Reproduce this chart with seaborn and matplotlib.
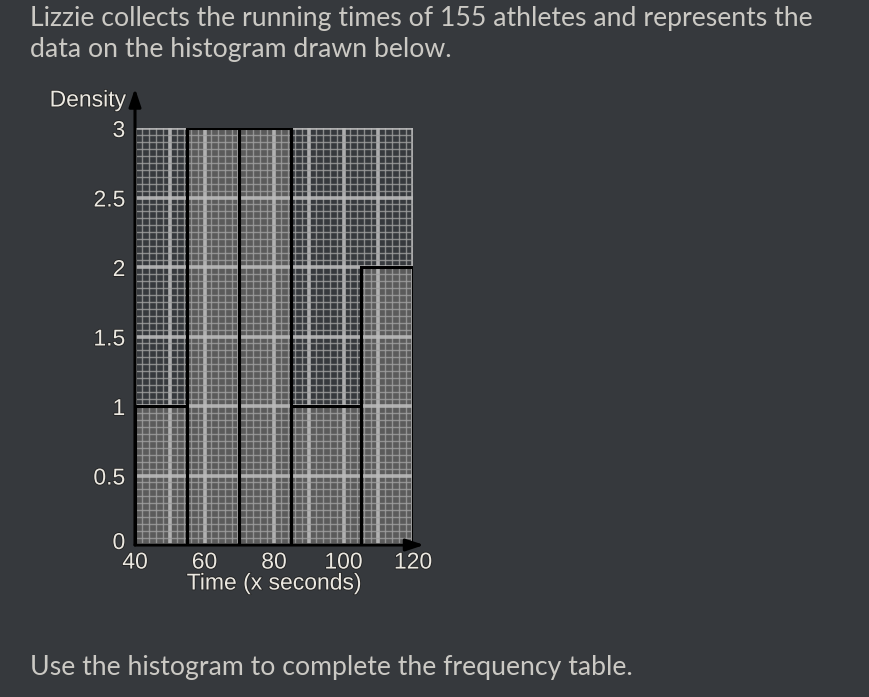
import numpy as np
import pandas as pd
import matplotlib
matplotlib.use("Agg")
import matplotlib.pyplot as plt
import matplotlib.transforms as mtransforms
import matplotlib.patheffects as pe
import seaborn as sns

# ---- data ----
bin_edges = [40, 55, 70, 85, 105, 120]
densities = [1, 3, 3, 1, 2]
x_ticks = [40, 60, 80, 100, 120]
y_ticks = [0, 0.5, 1, 1.5, 2, 2.5, 3]
y_tick_labels = ["0", "0.5", "1", "1.5", "2", "2.5", "3"]
title_lines = ["Lizzie collects the running times of 155 athletes and represents the",
               "data on the histogram drawn below."]
footer = "Use the histogram to complete the frequency table."
x_label = "Time (x seconds)"
y_label = "Density"

widths = np.diff(bin_edges)
mids = [(a + b) / 2 for a, b in zip(bin_edges[:-1], bin_edges[1:])]
df = pd.DataFrame({"mid": mids, "freq": [d * w for d, w in zip(densities, widths)]})

BG = "#36393d"
TXT = "#ebe8e1"
shadow = [pe.withStroke(linewidth=1.2, foreground="#222222")]

sns.set_theme(style="dark")
plt.rcParams["font.family"] = ["Liberation Sans", "DejaVu Sans"]

fig = plt.figure(figsize=(8.7, 6.97), dpi=100, facecolor=BG)
ax = fig.add_axes([135 / 870, 1 - 545 / 697, (413 - 135) / 870, (545 - 128) / 697])
ax.set_facecolor(BG)

# filled bars (below grid)
sns.histplot(data=df, x="mid", weights="freq", bins=bin_edges, stat="frequency",
             color="#5b5b5b", alpha=1, linewidth=0, ax=ax, zorder=1)
# outlines on top
sns.histplot(data=df, x="mid", weights="freq", bins=bin_edges, stat="frequency",
             fill=False, color="black", linewidth=2.2, ax=ax, zorder=4)

ax.set_xlim(40, 120)
ax.set_ylim(0, 3)

# grid
for xv in np.arange(40, 121, 2):
    major = (xv % 10 == 0)
    ax.axvline(xv, color="#bbbbbb" if major else "#a0a0a0",
               lw=2.6 if major else 1.0, alpha=0.9 if major else 0.8, zorder=2)
for yv in np.arange(0, 3.0001, 0.05):
    yr = round(yv, 2)
    major = abs(yr * 2 - round(yr * 2)) < 1e-6
    ax.axhline(yr, color="#bbbbbb" if major else "#a0a0a0",
               lw=2.6 if major else 1.0, alpha=0.9 if major else 0.8, zorder=2)

for s in ax.spines.values():
    s.set_visible(False)

ax.set_xticks(x_ticks)
ax.set_xticklabels([str(t) for t in x_ticks])
ax.set_yticks(y_ticks)
ax.set_yticklabels(y_tick_labels)
ax.tick_params(axis="both", length=0, labelsize=16.5, colors=TXT)
ax.tick_params(axis="x", pad=4)
ax.tick_params(axis="y", pad=7)
for lab in ax.get_xticklabels() + ax.get_yticklabels():
    lab.set_path_effects(shadow)
# lift the "0" label a little, as in the reference
zero_lab = ax.get_yticklabels()[0]
zero_lab.set_transform(zero_lab.get_transform() +
                       mtransforms.ScaledTranslation(0, 5 / 100, fig.dpi_scale_trans))
ax.set_xlabel("")
ax.set_ylabel("")

# axes with arrows
ax.annotate("", xy=(0, 1.095), xytext=(0, 0), xycoords="axes fraction",
            arrowprops=dict(arrowstyle="-|>,head_length=0.9,head_width=0.3",
                            color="black", lw=2.2, shrinkA=0, shrinkB=0),
            annotation_clip=False, zorder=6)
ax.annotate("", xy=(1.04, 0), xytext=(0, 0), xycoords="axes fraction",
            arrowprops=dict(arrowstyle="-|>,head_length=0.9,head_width=0.3",
                            color="black", lw=2.2, shrinkA=0, shrinkB=0),
            annotation_clip=False, zorder=6)

fig.text(126 / 870, 1 - 100 / 697, y_label, ha="right", va="center",
         fontsize=16.5, color=TXT, path_effects=shadow)
fig.text(274 / 870, 1 - 583 / 697, x_label, ha="center", va="center",
         fontsize=16.5, color=TXT, path_effects=shadow)

fig.text(30 / 870, 1 - 26 / 697, title_lines[0], ha="left", va="baseline",
         fontsize=19.2, color="#cbc9c4", family=["Lato", "DejaVu Sans"])
fig.text(30 / 870, 1 - 57 / 697, title_lines[1], ha="left", va="baseline",
         fontsize=19.2, color="#cbc9c4", family=["Lato", "DejaVu Sans"])
fig.text(30 / 870, 1 - 675 / 697, footer, ha="left", va="baseline",
         fontsize=19.2, color="#cbc9c4", family=["Lato", "DejaVu Sans"])

fig.savefig("out.png", dpi=100, facecolor=BG)
